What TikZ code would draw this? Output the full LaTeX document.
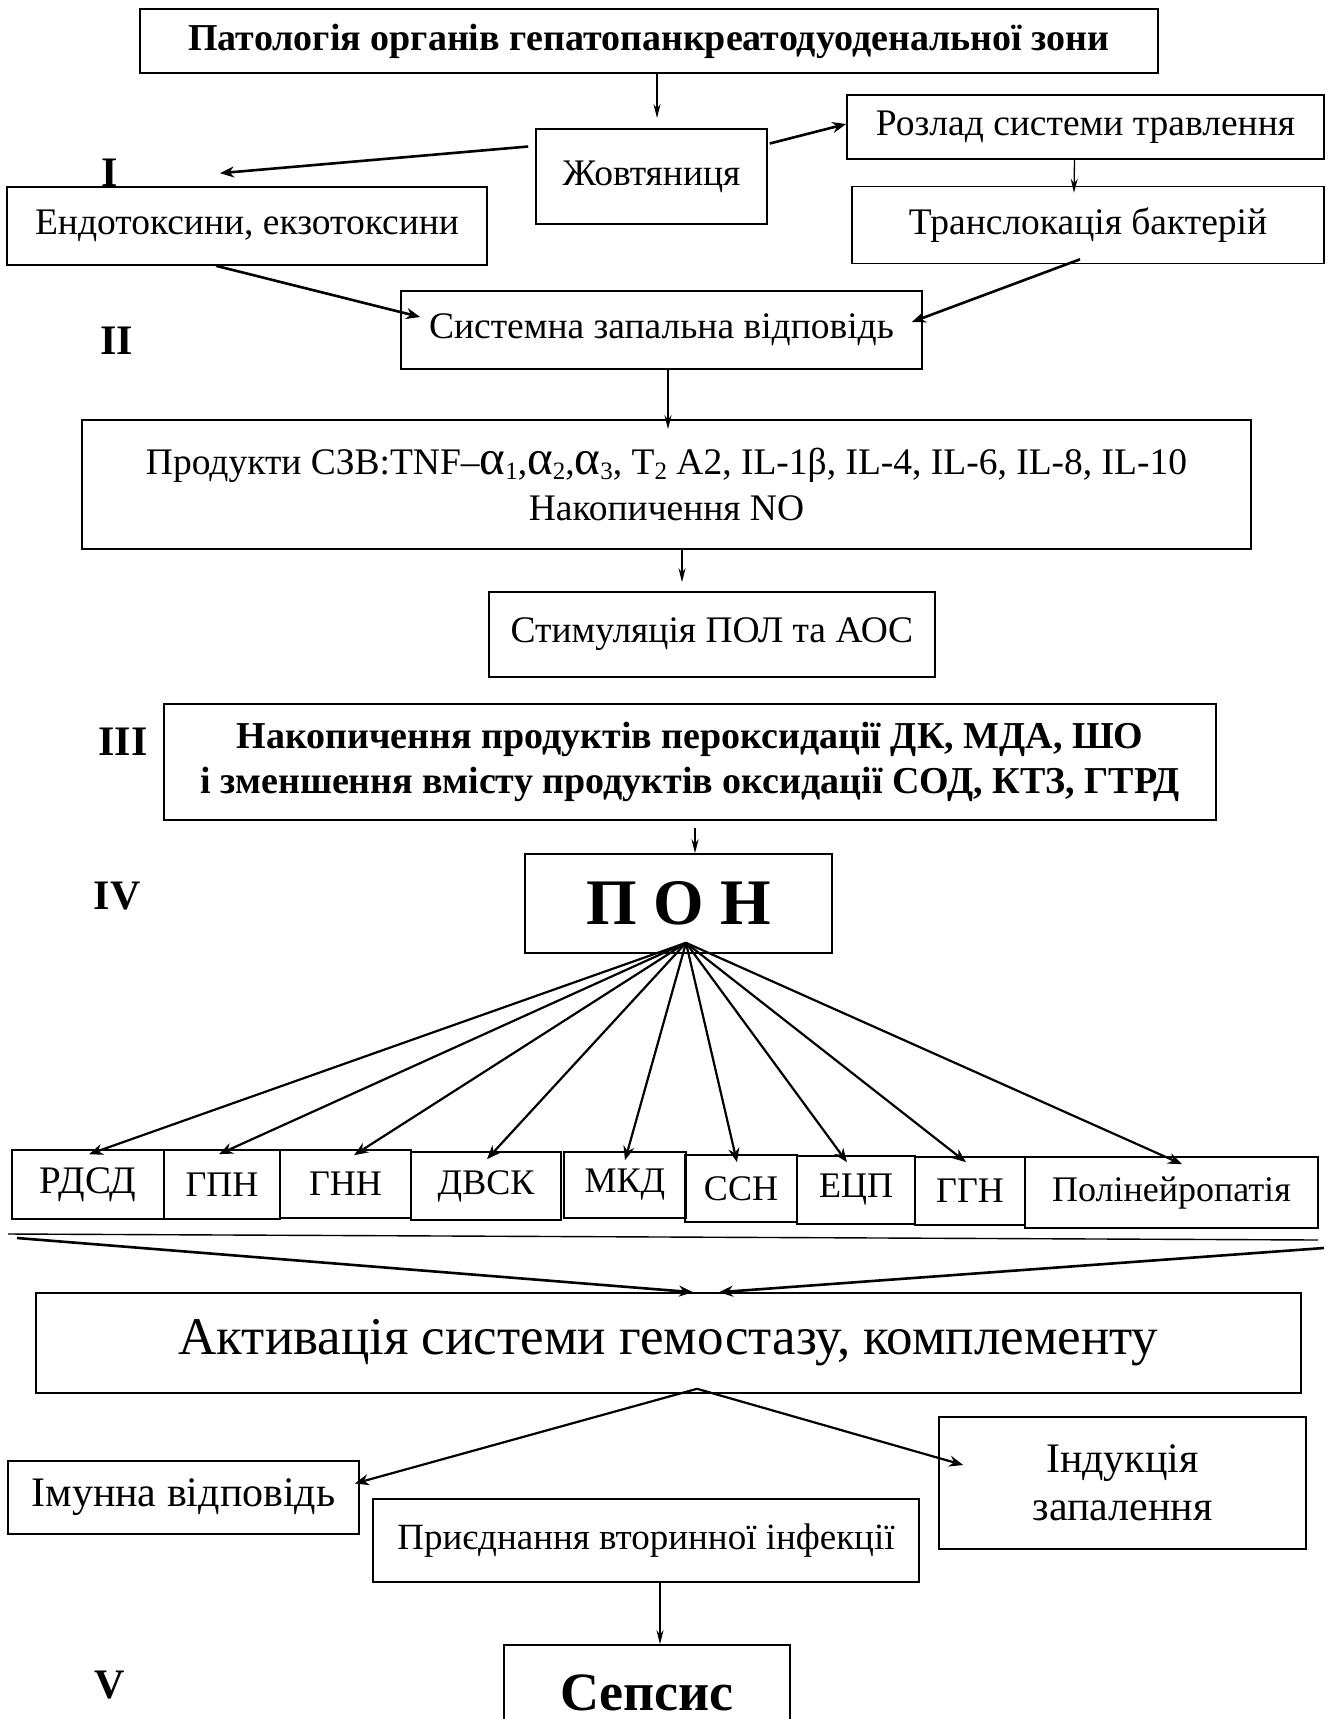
\documentclass[tikz,border=0pt]{standalone}
\usepackage{fontspec}
\setmainfont{Liberation Serif}
\usetikzlibrary{arrows.meta}
\newcommand\fsz[2]{\fontsize{#1}{#2}\selectfont}
\newcommand\subs[1]{\raisebox{-0.3ex}{\fsz{25}{25}#1}}
\newcommand\alf{{\fsz{49}{49}α}}
\begin{document}
\begin{tikzpicture}[x=1pt,y=-1pt,
  box/.style={draw, line width=1.6pt, inner sep=0pt, align=center, font=\fsz{37.5}{46}},
  thinarrow/.style={line width=1.3pt, -{Stealth[length=14pt,width=7pt]}},
  thickarrow/.style={line width=2.6pt, -{Stealth[length=14pt,width=11pt]}},
  roman/.style={font=\bfseries\fsz{42}{42}, inner sep=0pt}]
\clip (0,0) rectangle (1329,1719);
\fill[white] (0,0) rectangle (1329,1719);

% nodes
\node[box, minimum width=1018pt, minimum height=64pt, font=\bfseries\fsz{38}{44}] (top) at (649,41) {Патологія органів гепатопанкреатодуоденальної зони};
\node[box, minimum width=231pt, minimum height=95pt] (zhovt) at (651.5,176.5) {\raisebox{5pt}{Жовтяниця}};
\node[box, minimum width=477pt, minimum height=64pt] (rozlad) at (1085.5,127) {Розлад системи травлення};
\node[box, minimum width=472pt, minimum height=77pt] (transl) at (1088,225) {Транслокація бактерій};
\node[box, minimum width=480pt, minimum height=78pt] (endo) at (247,226) {Ендотоксини, екзотоксини};
\node[box, minimum width=521pt, minimum height=78pt] (sys) at (661.5,330) {Системна запальна відповідь};
\node[box, minimum width=1169pt, minimum height=129pt] (prod) at (666.5,484.5)
  {Продукти СЗВ:TNF–\alf\subs{1},\alf\subs{2},\alf\subs{3}, T\subs{2} A2, IL-1β, IL-4, IL-6, IL-8, IL-10\\Накопичення NO};
\node[box, minimum width=446pt, minimum height=85pt] (stim) at (712,634.5) {Стимуляція ПОЛ та АОС};
\node[box, minimum width=1052pt, minimum height=116pt, font=\bfseries\fsz{38}{45}] (nak) at (690,762)
  {Накопичення продуктів пероксидації ДК, МДА, ШО\\і зменшення вмісту продуктів оксидації СОД, КТЗ, ГТРД};
\node[box, minimum width=307pt, minimum height=99pt, font=\bfseries\fsz{65}{65}] (pon) at (678.5,903.5) {П О Н};

\node[box, minimum width=152pt, minimum height=69pt, font=\fsz{39}{46}] (rdsd) at (88,1184.5) {РДСД};
\node[box, minimum width=116pt, minimum height=69pt, font=\fsz{36}{46}] (gpn) at (222,1184.5) {ГПН};
\node[box, minimum width=131pt, minimum height=68pt, font=\fsz{36}{46}] (gnn) at (345.5,1184) {ГНН};
\node[box, minimum width=150pt, minimum height=68pt, font=\fsz{36}{46}] (dvsk) at (486,1186) {ДВСК};
\node[box, minimum width=122pt, minimum height=66pt, font=\fsz{36}{46}] (mkd) at (625,1185) {МКД};
\node[box, minimum width=112pt, minimum height=67pt, font=\fsz{36}{46}] (ssn) at (741,1188.5) {ССН};
\node[box, minimum width=118pt, minimum height=68pt, font=\fsz{36}{46}] (ecp) at (856,1190) {ЕЦП};
\node[box, minimum width=110pt, minimum height=68pt, font=\fsz{36}{46}] (ggn) at (970,1191) {ГГН};
\node[box, minimum width=293pt, minimum height=71pt, font=\fsz{36}{46}] (poly) at (1171.5,1192.5) {Полінейропатія};

\node[box, minimum width=1265pt, minimum height=100pt, font=\fsz{53}{58}] (act) at (668.5,1343) {Активація системи гемостазу, комплементу};
\node[box, minimum width=367pt, minimum height=132pt, font=\fsz{42}{48}] (ind) at (1122.5,1483) {Індукція\\запалення};
\node[box, minimum width=351pt, minimum height=73pt, font=\fsz{42}{46}] (imm) at (183.5,1497.5) {Імунна відповідь};
\node[box, minimum width=546pt, minimum height=83pt, font=\fsz{37}{44}] (pri) at (646,1540.5) {Приєднання вторинної інфекції};
\node[box, minimum width=286pt, minimum height=100pt, font=\bfseries\fsz{54}{54}] (sep) at (647,1695) {\raisebox{5pt}{Сепсис}};

% roman labels
\node[roman] (r1) at (110,173) {I};
\node[roman] (r2) at (117,341) {II};
\node[roman] (r3) at (123,742) {III};
\node[roman] (r4) at (117,896) {IV};
\node[roman] (r5) at (110,1685) {V};

% connectors top part
\coordinate (a1) at (657,118);
\draw[thinarrow] (top.south -| a1) -- (a1);
\draw[thickarrow] ([shift={(-7,-30)}]zhovt.west) -- ([shift={(-27,-13)}]endo.north);
\draw[thickarrow] ([shift={(2,-33)}]zhovt.east) -- ([shift={(0,-3)}]rozlad.west);
\draw[thinarrow] ([shift={(-11,0)}]rozlad.south) -- ([shift={(-14,7)}]transl.north);
\draw[thickarrow] ([shift={(-31,0)}]endo.south) -- ([shift={(20,-13)}]sys.west);
\draw[thickarrow] ([shift={(-8,-5)}]transl.south) -- ([shift={(-11,-8)}]sys.east);
\draw[thinarrow] ([shift={(6.5,0)}]sys.south) -- ([shift={(1.5,10)}]prod.north);
\draw[thinarrow] ([shift={(15.5,0)}]prod.south) -- ([shift={(-30,-9)}]stim.north);
\draw[thinarrow] ([shift={(5,7)}]nak.south) -- ([shift={(16.5,0)}]pon.north);

% fan
\coordinate (fan) at ([shift={(7.5,-11)}]pon.south);
\foreach \t/\dx/\dy in {rdsd/1/5, gpn/-3/5, gnn/8.5/6, dvsk/1/8, mkd/0/9, ssn/-4/8, ecp/-9/7, ggn/-4/6, poly/10.5/8}
  \draw[thickarrow, line width=2.2pt] (fan) -- ([shift={(\dx,\dy)}]\t.north);

% separator and converging arrows
\coordinate (s1) at (8,1234);
\coordinate (s2) at (1318,1240);
\draw[line width=1.4pt] (s1) -- (s2);
\coordinate (c1) at (17,1238);
\coordinate (c2) at (1324,1248);
\draw[thickarrow] (c1) -- ([shift={(24.5,0)}]act.north);
\draw[thickarrow] (c2) -- ([shift={(50.5,0)}]act.north);

% fork
\coordinate (fork) at ([shift={(28.5,-5)}]act.south);
\draw[thickarrow, line width=2.2pt] (fork) -- ([shift={(-5,-14)}]imm.east);
\draw[thickarrow, line width=2.2pt] (fork) -- ([shift={(25,-18)}]ind.west);

\draw[thinarrow] ([shift={(14,0)}]pri.south) -- ([shift={(13,0)}]sep.north);
\end{tikzpicture}
\end{document}
